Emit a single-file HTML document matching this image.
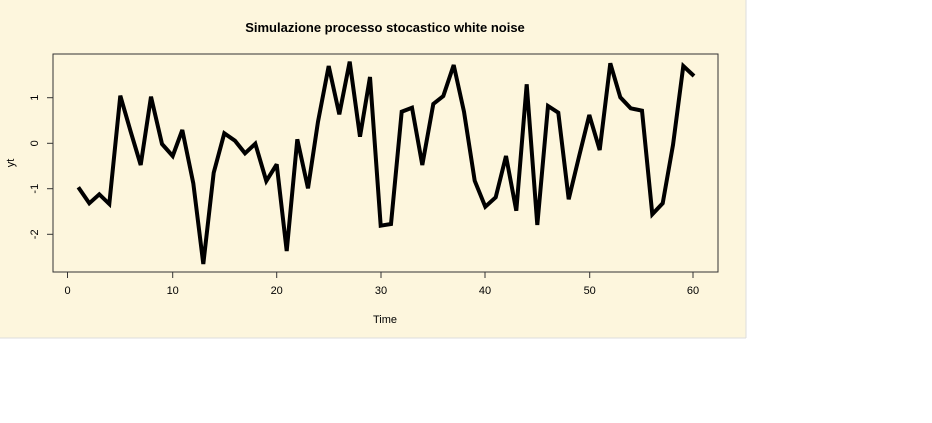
<!DOCTYPE html>
<html><head><meta charset="utf-8"><style>
html,body{margin:0;padding:0;background:#fff;width:932px;height:423px;overflow:hidden}
svg{display:block}
text{font-family:"Liberation Sans",sans-serif;fill:#000}
</style></head><body>
<svg width="932" height="423" viewBox="0 0 932 423">
<rect x="0" y="0" width="746" height="338" fill="#fdf6dd"/>
<line x1="746" y1="0" x2="746" y2="338" stroke="#ddd"/>
<line x1="0" y1="338" x2="746" y2="338" stroke="#ddd"/>
<text x="385" y="32" font-size="13" font-weight="bold" text-anchor="middle">Simulazione processo stocastico white noise</text>
<rect x="53" y="54" width="665" height="218" fill="none" stroke="#333" stroke-width="1"/>
<g stroke="#333" stroke-width="1">
<line x1="67.5" y1="272" x2="693" y2="272"/>
<line x1="67.5" y1="272" x2="67.5" y2="278"/><line x1="172.7" y1="272" x2="172.7" y2="278"/><line x1="276.7" y1="272" x2="276.7" y2="278"/><line x1="381" y1="272" x2="381" y2="278"/><line x1="485" y1="272" x2="485" y2="278"/><line x1="589.7" y1="272" x2="589.7" y2="278"/><line x1="693" y1="272" x2="693" y2="278"/>
<line x1="53" y1="97.7" x2="53" y2="234.3"/>
<line x1="47" y1="97.7" x2="53" y2="97.7"/><line x1="47" y1="143.3" x2="53" y2="143.3"/><line x1="47" y1="188.7" x2="53" y2="188.7"/><line x1="47" y1="234.3" x2="53" y2="234.3"/>
</g>
<g font-size="11" text-anchor="middle">
<text x="67.5" y="294">0</text><text x="172.7" y="294">10</text><text x="276.7" y="294">20</text><text x="381" y="294">30</text><text x="485" y="294">40</text><text x="589.7" y="294">50</text><text x="693" y="294">60</text>
<text transform="translate(38,97.7) rotate(-90)">1</text>
<text transform="translate(38,143.3) rotate(-90)">0</text>
<text transform="translate(38,188.7) rotate(-90)">-1</text>
<text transform="translate(38,234.3) rotate(-90)">-2</text>
<text x="385" y="323">Time</text>
<text transform="translate(14,163) rotate(-90)">yt</text>
</g>
<polyline fill="none" stroke="#000" stroke-width="4" stroke-linejoin="miter" stroke-miterlimit="3" points="78.3,187.3 89.3,203.3 99.3,194.3 109.3,204 120.3,95.7 130.7,131.7 140.7,165 151,96.7 162,144 172.7,156 182.3,130 193.3,183.3 203.3,264 213.7,172.7 224.3,133.3 235,140.7 245,153.3 255.3,143.7 266.3,181 276.7,164.3 286.7,251 297.3,139.3 308,188.3 318,121.7 328.7,66 339.3,114.3 349.7,61.7 360,136.7 370,77 380.7,225.7 391,224 401.7,111.7 412,107.7 422.3,165 433.3,104 443.3,96 453.7,65 464,111.7 474.7,180.7 485.3,206.7 495.7,197.3 506,156 516.3,210.7 526.7,84.3 537.3,225 548,106 558.3,112.7 568.7,199.3 579,156.7 589.3,115 599.7,150 610.3,63.3 620.3,97.3 630.7,108.3 642,110.7 652.3,214.3 662.7,203.3 673,145 683.3,66 694,76"/>
</svg>
</body></html>
